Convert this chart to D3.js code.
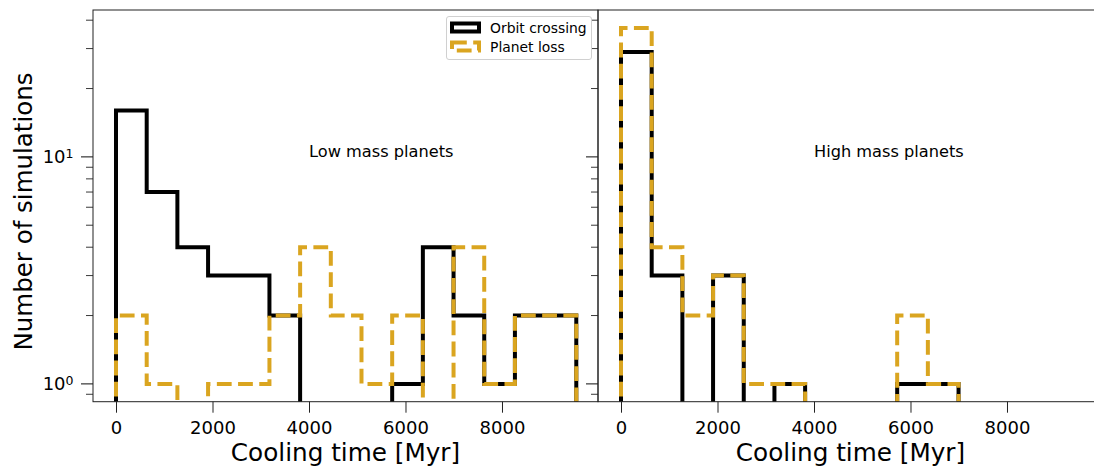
<!DOCTYPE html>
<html>
<head>
<meta charset="utf-8">
<script src="https://cdn.jsdelivr.net/npm/d3@7"></script>
<style>
  body { margin: 0; background: #fff; }
  svg { display: block; font-family: "DejaVu Sans", sans-serif; }
</style>
</head>
<body>
<svg id="chart" width="1094" height="467"></svg>
<script>
// histogram bins (Myr) and counts per bin
const binEdges = [0, 636, 1272, 1908, 2544, 3180, 3816, 4452, 5088, 5724, 6360, 6996, 7632, 8268, 8904, 9540];
const lowCrossing  = [16, 7, 4, 3, 3, 2, 0, 0, 0, 1, 4, 2, 1, 2, 2];
const lowLoss      = [2, 1, 0, 1, 1, 2, 4, 2, 1, 2, 0, 4, 1, 2, 2];
const highCrossing = [29, 3, 0, 3, 0, 1, 0, 0, 0, 1, 1, 0, 0, 0, 0];
const highLoss     = [37, 4, 2, 3, 1, 1, 0, 0, 0, 2, 1, 0, 0, 0, 0];

const seriesNames = ["Orbit crossing", "Planet loss"];
const panelLabels = ["Low mass planets", "High mass planets"];
const xTicks = [0, 2000, 4000, 6000, 8000];
const yMajor = [1, 10];
const yMinor = [0.9, 2, 3, 4, 5, 6, 7, 8, 9, 20, 30, 40];

const GOLD = "#DAA520";
const svg = d3.select("#chart");

const plotTop = 10, plotBottom = 401.7, panelW = 505;
const panels = [
  { x0: 93, label: panelLabels[0], crossing: lowCrossing, loss: lowLoss, showYLabels: true },
  { x0: 598, label: panelLabels[1], crossing: highCrossing, loss: highLoss, showYLabels: false }
];

const y = d3.scaleLog()
  .domain([Math.pow(10, -0.0785), Math.pow(10, 1.647)])
  .range([plotBottom, plotTop]);

// step outline like matplotlib histtype="step"; empty bins fall below the axis
function stepPoints(counts, x) {
  const floor = 0.3;
  const pts = [[x(binEdges[0]), y(floor)]];
  counts.forEach((c, i) => {
    const v = c > 0 ? c : floor;
    pts.push([x(binEdges[i]), y(v)]);
    pts.push([x(binEdges[i + 1]), y(v)]);
  });
  pts.push([x(binEdges[binEdges.length - 1]), y(floor)]);
  return pts;
}

panels.forEach((p, idx) => {
  const x = d3.scaleLinear().domain([-477, 9990]).range([p.x0, p.x0 + panelW]);
  const g = svg.append("g");

  const clipId = "clip" + idx;
  svg.append("clipPath").attr("id", clipId)
    .append("rect")
    .attr("x", p.x0).attr("y", plotTop)
    .attr("width", panelW).attr("height", plotBottom - plotTop);

  const plot = g.append("g").attr("clip-path", `url(#${clipId})`);
  const line = d3.line();

  plot.append("path")
    .attr("d", line(stepPoints(p.crossing, x)))
    .attr("fill", "none")
    .attr("stroke", "#000")
    .attr("stroke-width", 4)
    .attr("stroke-linejoin", "miter");

  plot.append("path")
    .attr("d", line(stepPoints(p.loss, x)))
    .attr("fill", "none")
    .attr("stroke", GOLD)
    .attr("stroke-width", 4)
    .attr("stroke-dasharray", "14.8,6.4")
    .attr("stroke-linejoin", "miter");

  // spines
  g.append("rect")
    .attr("x", p.x0).attr("y", plotTop)
    .attr("width", panelW).attr("height", plotBottom - plotTop)
    .attr("fill", "none")
    .attr("stroke", "#222")
    .attr("stroke-width", 1);

  // x axis
  const xAxis = d3.axisBottom(x).tickValues(xTicks).tickSize(11).tickPadding(9)
    .tickFormat(d3.format("d"));
  const ax = g.append("g").attr("transform", `translate(0,${plotBottom})`).call(xAxis);
  ax.select(".domain").remove();
  ax.selectAll("line").attr("stroke", "#222");
  ax.selectAll("text")
    .attr("font-family", "DejaVu Sans").attr("font-size", 18).attr("fill", "#000");

  // y axis (log): major and minor ticks
  const yg = g.append("g");
  yg.selectAll("line.major").data(yMajor).join("line")
    .attr("class", "major")
    .attr("x1", p.x0 - 12).attr("x2", p.x0)
    .attr("y1", d => y(d)).attr("y2", d => y(d))
    .attr("stroke", "#222").attr("stroke-width", 1.1);
  yg.selectAll("line.minor").data(yMinor).join("line")
    .attr("class", "minor")
    .attr("x1", p.x0 - 7).attr("x2", p.x0)
    .attr("y1", d => y(d)).attr("y2", d => y(d))
    .attr("stroke", "#222").attr("stroke-width", 0.9);

  if (p.showYLabels) {
    const lbl = yg.selectAll("text.ylab").data(yMajor).join("text")
      .attr("class", "ylab")
      .attr("x", p.x0 - 19.5)
      .attr("y", d => y(d) + 6.5)
      .attr("text-anchor", "end")
      .attr("font-size", 18);
    lbl.append("tspan").text("10");
    lbl.append("tspan")
      .attr("font-size", 12.5)
      .attr("dy", -5.5)
      .text(d => Math.round(Math.log10(d)));
  }

  // panel annotation at (4000, 10)
  g.append("text")
    .attr("x", x(4000)).attr("y", y(10))
    .attr("font-size", 16.2)
    .text(p.label);

  // x title
  g.append("text")
    .attr("x", p.x0 + panelW / 2).attr("y", 461)
    .attr("text-anchor", "middle")
    .attr("font-size", 24.7)
    .text("Cooling time [Myr]");
});

// y title
svg.append("text")
  .attr("transform", "translate(32,211.5) rotate(-90)")
  .attr("text-anchor", "middle")
  .attr("font-size", 24.5)
  .text("Number of simulations");

// legend
const leg = svg.append("g");
leg.append("rect")
  .attr("x", 446.5).attr("y", 16.5)
  .attr("width", 145).attr("height", 43)
  .attr("rx", 2.5)
  .attr("fill", "rgba(255,255,255,0.8)")
  .attr("stroke", "#d0d0d0")
  .attr("stroke-width", 1);

const legStyles = [
  { stroke: "#000", dash: null },
  { stroke: GOLD, dash: "14.8,6.4" }
];
seriesNames.forEach((name, i) => {
  const cy = 27.5 + i * 19;
  leg.append("rect")
    .attr("x", 452).attr("y", cy - 4)
    .attr("width", 27).attr("height", 8)
    .attr("fill", "none")
    .attr("stroke", legStyles[i].stroke)
    .attr("stroke-width", 4)
    .attr("stroke-dasharray", legStyles[i].dash);
  leg.append("text")
    .attr("x", 490).attr("y", cy + 5)
    .attr("font-size", 13.9)
    .text(name);
});
</script>
</body>
</html>
